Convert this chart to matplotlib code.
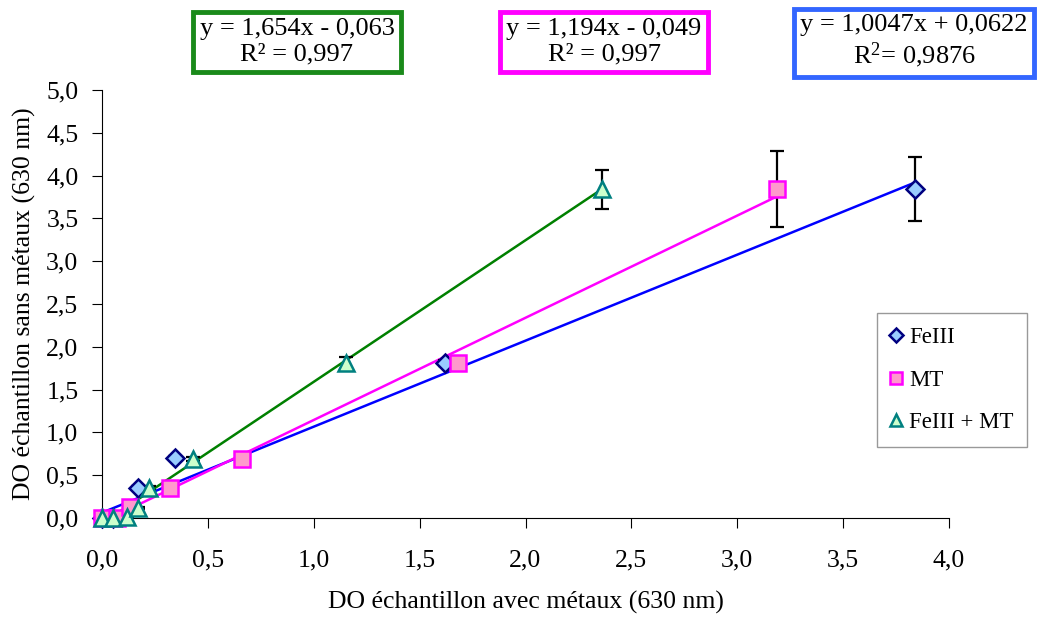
import matplotlib.pyplot as plt
import numpy as np

plt.rcParams['font.family'] = ['Liberation Serif', 'DejaVu Serif']
plt.rcParams['mathtext.fontset'] = 'custom'
plt.rcParams['mathtext.rm'] = 'Liberation Serif'

# donnees
fe_x = [0.0, 0.05, 0.17, 0.345, 1.62, 3.84]
fe_y = [0.0, 0.0, 0.35, 0.70, 1.81, 3.84]
fe_err = [0.0, 0.0, 0.02, 0.02, 0.03, 0.375]

mt_x = [0.0, 0.07, 0.13, 0.32, 0.66, 1.68, 3.19]
mt_y = [0.0, 0.0, 0.13, 0.35, 0.69, 1.81, 3.84]
mt_err = [0.0, 0.0, 0.01, 0.02, 0.02, 0.03, 0.445]

femt_x = [0.0, 0.05, 0.12, 0.17, 0.22, 0.43, 1.15, 2.36]
femt_y = [0.0, 0.0, 0.01, 0.12, 0.35, 0.69, 1.81, 3.84]
femt_err = [0.0, 0.0, 0.0, 0.01, 0.02, 0.02, 0.07, 0.23]

# droites de tendance (Excel)
pente = [1.0047, 1.194, 1.654]
ordonnee = [0.0622, -0.049, -0.063]
eq_txt = ['y = 1,0047x + 0,0622\nR$\\mathrm{^2}$= 0,9876',
          'y = 1,194x - 0,049\nR² = 0,997',
          'y = 1,654x - 0,063\nR² = 0,997']

fig = plt.figure(figsize=(10.37, 6.19), dpi=100)
ax = fig.add_axes([102/1037, 1-518/619, (949-102)/1037, (518-90)/619])

series = [
    (fe_x, fe_y, fe_err, 'D', '#99CCFF', '#000080', '#0000FF', 'FeIII', 9),
    (mt_x, mt_y, mt_err, 's', '#FF99CC', '#FF00FF', '#FF00FF', 'MT', 11),
    (femt_x, femt_y, femt_err, '^', '#CCFFCC', '#008080', '#008000', 'FeIII + MT', 11),
]

handles = []
for i, (x, y, e, m, fc, ec, lc, lab, ms) in enumerate(series):
    xx = np.linspace(min(x), max(x), 50)
    ax.plot(xx, pente[i]*xx + ordonnee[i], color=lc, lw=1.8, zorder=2)
    ax.errorbar(x, y, yerr=e, fmt='none', ecolor='black', elinewidth=1.6,
                capsize=5, capthick=1.6, zorder=3)
    h, = ax.plot(x, y, ls='none', marker=m, ms=ms, mfc=fc, mec=ec, mew=1.8,
                 label=lab, zorder=4, clip_on=False)
    handles.append(h)

ax.set_xlim(0, 4)
ax.set_ylim(0, 5)
ax.set_xticks(np.arange(0, 4.01, 0.5))
ax.set_yticks(np.arange(0, 5.01, 0.5))
ax.set_xticklabels([f'{v:.1f}'.replace('.', ',') for v in np.arange(0, 4.01, 0.5)])
ax.set_yticklabels([f'{v:.1f}'.replace('.', ',') for v in np.arange(0, 5.01, 0.5)])
ax.tick_params(labelsize=18.5, length=7, direction='out')
ax.tick_params(axis='x', pad=16)
ax.tick_params(axis='y', pad=10)
ax.spines['top'].set_visible(False)
ax.spines['right'].set_visible(False)

ax.set_xlabel('DO échantillon avec métaux (630 nm)', fontsize=18.5, labelpad=14)
ax.set_ylabel('DO échantillon sans métaux (630 nm)', fontsize=18.5, labelpad=7)

leg = fig.legend(handles=handles, loc='upper left',
                 bbox_to_anchor=(877/1037, 1-313/619), fontsize=16.5,
                 frameon=True, fancybox=False, edgecolor='#808080',
                 handlelength=0.5, handletextpad=0.3, labelspacing=0.95,
                 borderpad=0.6, borderaxespad=0, markerscale=0.75)
leg.get_frame().set_linewidth(1)

# encadres des equations
boites = [((795+1033)/2, '#3366FF'), ((497+711)/2, '#FF00FF'), ((191+403)/2, '#1A8A1A')]
for txt, (cx, col) in zip(eq_txt, boites):
    fig.text(cx/1037, 1-42/619, txt, ha='center', va='center', fontsize=19,
             linespacing=1.2,
             bbox=dict(boxstyle='square,pad=0.25', fc='white', ec=col, lw=3.5))

fig.savefig('out.png', dpi=100)
